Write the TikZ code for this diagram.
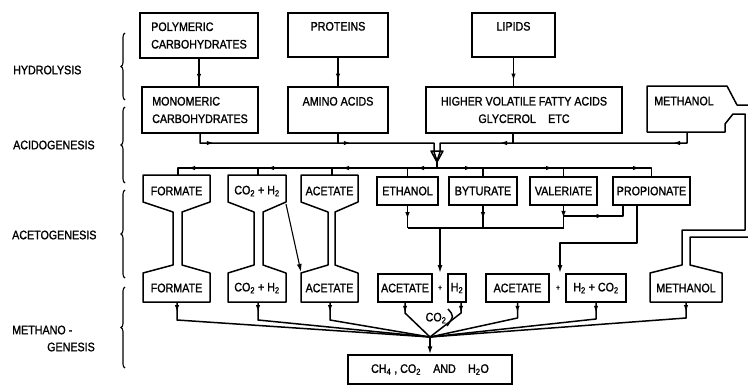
\documentclass[tikz,border=0pt]{standalone}
\usepackage{fontspec}
\setmainfont{Liberation Sans}[FakeStretch=0.87, FakeBold=1.3]
\usetikzlibrary{arrows.meta,decorations.pathreplacing,decorations.markings}
\newcommand\lblfont{\fontsize{12.3}{17.5}\selectfont}
\newcommand\hglass[4]{\draw[ln] (#1,202) -- (#1,175) -- (#2,175) -- (#2,202) -- (#4,212) -- (#4,265) -- (#2,273) -- (#2,302) -- (#1,302) -- (#1,273) -- (#3,265) -- (#3,212) -- cycle;}
\begin{document}
\begin{tikzpicture}[x=1pt,y=-1pt,
  ln/.style={line width=1.5pt, line join=round},
  box/.style={draw, line width=1.5pt, inner sep=0pt, font=\lblfont, align=center},
  txt/.style={inner sep=0pt, font=\lblfont, align=center},
  side/.style={inner sep=0pt, font=\lblfont, anchor=west},
  tipd/.style={-{Latex[length=8pt,width=5pt]}},
  am/.style={postaction={decorate, decoration={markings, mark=at position #1 with {\arrow{Latex[length=7pt,width=4.5pt]}}}}},
  brc/.style={line width=1.1pt, decorate, decoration={brace, amplitude=4pt}},
]
\clip (0,0) rectangle (748,386);
\fill[white] (0,0) rectangle (748,386);

% stage labels
\node[side] (hyd) at (13,70) {HYDROLYSIS};
\node[side] (acid) at (13,145) {ACIDOGENESIS};
\node[side] (aceto) at (12,235) {ACETOGENESIS};
\node[side] (metha) at (12,330) {METHANO -};
\node[side] (gen) at (47,347) {GENESIS};
\draw[brc] (125,100) -- (125,33);
\draw[brc] (125,183) -- (125,107);
\draw[brc] (125,278) -- (125,190);
\draw[brc] (125,368) -- (125,287);

% row 1
\node[box, align=left, minimum width=118, minimum height=45] (poly) at (199,35.5) {POLYMERIC\\CARBOHYDRATES};
\node[box, minimum width=100, minimum height=44] (prot) at (338,35) {PROTEINS\\~};
\node[box, minimum width=83, minimum height=44] (lip) at (513.5,35) {LIPIDS\\~};

% row 2
\node[box, align=left, minimum width=116, minimum height=46] (mono) at (200,110) {MONOMERIC\\CARBOHYDRATES};
\node[box, minimum width=100, minimum height=46] (amino) at (338,110) {AMINO ACIDS\\~};
\node[box, minimum width=196, minimum height=46] (hvfa) at (524,110) {HIGHER VOLATILE FATTY ACIDS\\GLYCEROL\quad ETC};

\draw[ln, am=0.8] (poly.south) -- (poly.south |- mono.north);
\draw[ln, am=0.8] (prot.south) -- (prot.south |- amino.north);
\draw[ln, am=0.8] (lip.south) -- (lip.south |- hvfa.north);

% methanol with pipe (both methanol boxes)
\node[txt] (m1) at (684,101) {METHANOL};
\node[txt] (m2) at (686,288) {METHANOL};
\draw[ln] (760,105) -- (737,105) -- (727,86) -- (647,86) -- (647,132) -- (725,132) -- (725,124) -- (733,114)
  -- (745,114) -- (745,230) -- (682,230) -- (682,265) -- (650,273) -- (650,302) -- (722,302) -- (722,273)
  -- (690,265) -- (690,237) -- (760,237);
\coordinate (m1b) at (687,132);

% upper collector
\coordinate (jl) at (434,143);
\coordinate (jr) at (440,143);
\draw[ln, am=23pt, am=160pt] (mono.south) |- (jl) -- (434,152) -- (437,161);
\draw[ln] (amino.south) -- (amino.south |- jl);
\draw[ln, am=25pt, am=198pt] (m1b) |- (jr) -- (440,152) -- (437,161);
\draw[ln] ([xshift=-11pt]hvfa.south) -- ([xshift=-11pt]hvfa.south |- jr);
\draw[ln] (431,151) -- (443,151) -- (437,162) -- cycle;
\coordinate (jc) at (437,168);
\draw[ln] (437,161) -- (jc);

% row 3 boxes
\hglass{143}{210}{173}{182}
\hglass{228}{286}{254}{263}
\hglass{301}{358}{328}{335}
\node[txt] (f1) at (176.5,191) {FORMATE};
\node[txt] (f2) at (176.5,288) {FORMATE};
\node[txt] (c1) at (257,191) {CO\textsubscript{2} + H\textsubscript{2}};
\node[txt] (c2) at (257,288) {CO\textsubscript{2} + H\textsubscript{2}};
\node[txt] (a1) at (329.5,191) {ACETATE};
\node[txt] (a2) at (329.5,288) {ACETATE};
\node[box, minimum width=61, minimum height=28] (eth) at (407.5,191) {ETHANOL};
\node[box, minimum width=68, minimum height=28] (byt) at (483,191) {BYTURATE};
\node[box, minimum width=67, minimum height=28] (val) at (563.5,191) {VALERIATE};
\node[box, minimum width=77, minimum height=28] (prop) at (651.5,191) {PROPIONATE};

% lower collector
\draw[ln, am=20pt, am=95pt, am=170pt, am=249pt] (jc) -- (178,168) -- (178,175);
\draw[ln, am=35pt, am=116pt, am=203pt] (jc) -- (prop.north |- jc) -- (prop.north);
\draw[ln] (258,168) -- (258,175);
\draw[ln] (332,168) -- (332,175);
\draw[ln] (eth.north |- jc) -- (eth.north);
\draw[ln] (byt.north |- jc) -- (byt.north);
\draw[ln] (val.north |- jc) -- (val.north);

% acetogenesis connections
\coordinate (hb) at (0,228);
\draw[ln, am=0.6] (eth.south) -- (eth.south |- hb);
\draw[ln, am=0.6] (byt.south) -- (byt.south |- hb);
\draw[ln, am=0.55] (val.south) -- (val.south |- hb);
\draw[ln] (eth.south |- hb) -- (val.south |- hb);
\coordinate (pr1) at (623,205);
\coordinate (pr2) at (637,205);
\draw[ln, am=40pt] (val.south |- 0,216) -- (pr1 |- 0,216) -- (pr1);
\draw[ln, tipd] (440,228) -- (440,273);
\draw[ln, tipd] (pr2) -- (637,243) -- (560,243) -- (560,273);
\draw[line width=1.1pt, tipd] (286,204) -- (301,272);

% row 4 boxes
\node[box, minimum width=54, minimum height=28] (ac1) at (405,288) {ACETATE};
\node[txt] (p1) at (440,288) {\fontsize{8}{8}\selectfont +};
\node[box, minimum width=18, minimum height=28] (h2a) at (457,288) {H\textsubscript{2}};
\node[box, minimum width=63, minimum height=28] (ac2) at (517.5,288) {ACETATE};
\node[txt] (p2) at (558,288) {\fontsize{8}{8}\selectfont +};
\node[box, minimum width=60, minimum height=28] (h2c) at (596,288) {H\textsubscript{2} + CO\textsubscript{2}};

% final
\node[box, minimum width=164, minimum height=29] (fin) at (430,369.5) {CH\textsubscript{4} , CO\textsubscript{2}\quad AND\quad H\textsubscript{2}O};
\node[txt] (co2) at (436,318) {CO\textsubscript{2}};

\coordinate (cv) at (430,337);
\draw[ln, am=10pt] (177,302) -- (177,320) -- (cv);
\draw[ln, am=10pt] (258,302) -- (258,320) -- (cv);
\draw[ln, am=10pt] (330,302) -- (330,320) -- (cv);
\draw[ln, am=10pt] (ac1.south) -- (405,313) -- (cv);
\draw[ln, am=10pt] ([xshift=4pt]h2a.south) -- (461,313) -- (cv);
\draw[ln, am=10pt] (ac2.south) -- (ac2.south |- 0,318) -- (cv);
\draw[ln, am=10pt] (h2c.south) -- (h2c.south |- 0,319) -- (cv);
\draw[ln, am=10pt] (686,302) -- (686,318) -- (cv);
\draw[ln] (448,309) .. controls (454,316) .. (447,326);
\draw[ln, tipd] (cv) -- (fin.north);
\end{tikzpicture}
\end{document}
